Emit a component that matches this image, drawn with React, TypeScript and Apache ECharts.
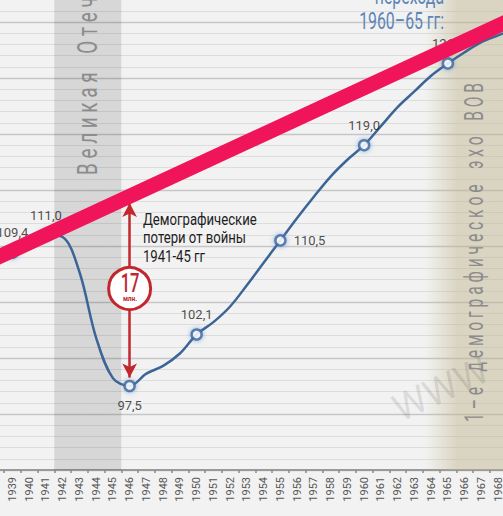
import React, { useEffect, useRef } from "react";
import * as echarts from "echarts";

// ---- data ----
const years = [
  "1938", "1939", "1940", "1941", "1942", "1943", "1944", "1945", "1946", "1947",
  "1948", "1949", "1950", "1951", "1952", "1953", "1954", "1955", "1956", "1957",
  "1958", "1959", "1960", "1961", "1962", "1963", "1964", "1965", "1966", "1967",
  "1968", "1969",
];
// population, mln (curve)
const population = [
  109.0, 109.4, 110.5, 111.0, 110.8, 107.7, 101.8, 98.2, 97.5, 98.6,
  99.3, 100.4, 102.1, 103.2, 104.6, 106.5, 108.5, 110.5, 112.5, 114.4,
  116.2, 117.7, 119.0, 120.7, 122.4, 123.8, 125.2, 126.3, 127.3, 128.2,
  128.8, 129.4,
];
const markedYears = ["1939", "1941", "1946", "1950", "1955", "1960", "1965"];
const markedValues = [109.4, 111.0, 97.5, 102.1, 110.5, 119.0, 126.3];
const trendYears = ["1938", "1969"];
const trendValues = [108.9, 130.35];
const warYears = ["1942", "1943", "1944", "1945"];
const lossYear = "1946";
const lossTop = 113.85;
const lossBottom = 98.25;
const lossMid = 106.2;
const lossLabel = "17";
const lossUnit = "млн.";
const yMin = 90;
const yMax = 135;
const yStep = 5;

const warText = "Великая Отечественная война";
const echoText = "1–е демографическое эхо ВОВ";
const noteText = ["Демографические", "потери от войны", "1941-45 гг"];
const titleLines = ["перехода", "1960–65 гг:"];
const watermark = "WWW";

// ---- layout helpers ----
const OX = 30; // chart offset inside page
const OY = 60;
const W = 563;
const H = 576;
const BLUE = "#3b6597";
const PINK = "#f0145a";
const RED = "#c1272d";
const FONT = "Roboto, 'DejaVu Sans', sans-serif";

const spaced = (s: string) =>
  s
    .split(" ")
    .map((w) => w.split("").join(" "))
    .join("    ");

const labelPos: Record<string, string> = {
  "1939": "top",
  "1941": "top",
  "1946": "bottom",
  "1950": "top",
  "1955": "right",
  "1960": "top",
  "1965": "top",
};

const txt = (text: string, x: number, y: number, extra: any, style: any) => ({
  type: "text",
  silent: true,
  x: x + OX,
  y: y + OY,
  ...extra,
  style: {
    text,
    fontFamily: FONT,
    ...style,
    textAlign: style.align,
    textVerticalAlign: style.verticalAlign,
  },
});

export default function App() {
  const ref = useRef<HTMLDivElement>(null);
  useEffect(() => {
    if (!ref.current) return;
    const chart = echarts.init(ref.current, undefined, { renderer: "svg" });
    const option: any = {
      animation: false,
      backgroundColor: "#f2f2f2",
      grid: { left: 17.25, right: 9.75, top: 26, bottom: 46 },
      xAxis: {
        type: "category",
        data: years,
        boundaryGap: true,
        axisLine: { lineStyle: { color: "#9a9a9a", width: 2 } },
        axisTick: { show: true, length: 3, lineStyle: { color: "#888", width: 1.5 } },
        axisLabel: {
          interval: 0,
          rotate: 90,
          margin: 7,
          fontSize: 11,
          color: "#555",
          fontFamily: FONT,
        },
        splitLine: { show: false },
      },
      yAxis: [
        {
          type: "value",
          min: yMin,
          max: yMax,
          interval: yStep,
          axisLabel: { show: false },
          axisLine: { show: false },
          axisTick: { show: false },
          splitLine: { lineStyle: { color: "#c6c6c6", width: 1.3 } },
          minorTick: { show: false, splitNumber: 5 },
          minorSplitLine: { show: true, lineStyle: { color: "#dddddd", width: 1 } },
        },
        { type: "value", min: 0, max: 1, show: false },
      ],
      graphic: {
        elements: [
          {
            type: "rect",
            z: 1,
            silent: true,
            shape: { x: 425 + OX, y: 0, width: 108, height: 470 + OY },
            style: {
              fill: {
                type: "linear",
                x: 0,
                y: 0,
                x2: 1,
                y2: 0,
                colorStops: [
                  { offset: 0, color: "rgba(190,180,140,0)" },
                  { offset: 0.3, color: "rgba(190,180,140,0.47)" },
                  { offset: 1, color: "rgba(190,180,140,0.47)" },
                ],
              },
            },
          },
          txt(watermark, 403, 428, { z: 2, rotation: 0.44 }, {
            fontSize: 38,
            fill: "rgba(0,0,0,0.11)",
            align: "left",
            verticalAlign: "bottom",
          }),
          txt(spaced(warText), 88, 175, { z: 2, rotation: Math.PI / 2, scaleX: 0.7 }, {
            fontSize: 27,
            fill: "#8c8c8c",
            align: "left",
            verticalAlign: "middle",
          }),
          txt(spaced(echoText), 474, 422, { z: 2, rotation: Math.PI / 2, scaleX: 0.6 }, {
            fontSize: 26,
            fill: "#8c8c8c",
            align: "left",
            verticalAlign: "middle",
          }),
          txt(titleLines[1], 444, 20.5, { z: 10, scaleX: 0.66 }, {
            fontSize: 24,
            fill: "#5d86b7",
            align: "right",
            verticalAlign: "middle",
          }),
          txt(titleLines[0], 444, -4.5, { z: 10, scaleX: 0.66 }, {
            fontSize: 24,
            fill: "#5d86b7",
            align: "right",
            verticalAlign: "middle",
          }),
          txt(noteText.join("\n"), 143, 210, { z: 10, scaleX: 0.82 }, {
            fontSize: 16,
            lineHeight: 18.5,
            fill: "#1e1e1e",
            align: "left",
            verticalAlign: "top",
          }),
          txt(lossLabel, 130, 283, { z: 20, scaleX: 0.66 }, {
            fontSize: 25,
            fontWeight: 500,
            fill: RED,
            align: "center",
            verticalAlign: "middle",
          }),
          txt(lossUnit, 130, 299, { z: 20 }, {
            fontSize: 6.5,
            fontWeight: "bold",
            fill: RED,
            align: "center",
            verticalAlign: "middle",
          }),
        ],
      },
      series: [
        {
          type: "bar",
          yAxisIndex: 1,
          data: years.map((y) => (warYears.includes(y) ? 1 : "-")),
          barWidth: "100%",
          itemStyle: { color: "rgba(0,0,0,0.11)" },
          silent: true,
          z: 1,
        },
        {
          type: "line",
          data: population,
          smooth: 0.35,
          showSymbol: false,
          symbol: "none",
          lineStyle: { color: BLUE, width: 2.5 },
          silent: true,
          z: 3,
        },
        {
          type: "scatter",
          data: markedYears.map((y, i) => ({
            value: [y, markedValues[i]],
            label: { position: labelPos[y] },
          })),
          symbol: "circle",
          symbolSize: 10,
          itemStyle: {
            color: "#ffffff",
            borderColor: BLUE,
            borderWidth: 2.5,
            shadowColor: "rgba(90,140,210,0.8)",
            shadowBlur: 5,
          },
          label: {
            show: true,
            distance: 7,
            fontSize: 13,
            fontFamily: FONT,
            color: "#222",
            formatter: (p: any) => p.value[1].toFixed(1).replace(".", ","),
          },
          silent: true,
          z: 4,
        },
        {
          type: "line",
          data: trendYears.map((y, i) => [y, trendValues[i]]),
          symbol: "none",
          lineStyle: { color: PINK, width: 15, cap: "butt" },
          silent: true,
          z: 5,
          markLine: {
            silent: true,
            symbol: ["arrow", "arrow"],
            symbolSize: [11, 14],
            lineStyle: { color: RED, width: 2.5, type: "solid" },
            label: { show: false },
            emphasis: { disabled: true },
            data: [[{ coord: [lossYear, lossTop] }, { coord: [lossYear, lossBottom] }]],
          },
          markPoint: {
            silent: true,
            symbol: "circle",
            symbolSize: 42,
            itemStyle: { color: "#ffffff", borderColor: RED, borderWidth: 3 },
            label: { show: false },
            data: [{ coord: [lossYear, lossMid] }],
          },
        },
      ],
    };
    chart.setOption(option);
    return () => chart.dispose();
  }, []);
  return (
    <div
      style={{
        position: "fixed",
        left: 0,
        top: 0,
        width: 503,
        height: 516,
        overflow: "hidden",
        background: "#f2f2f2",
      }}
    >
      <div
        ref={ref}
        style={{ position: "absolute", left: -OX, top: -OY, width: W, height: H }}
      />
    </div>
  );
}
